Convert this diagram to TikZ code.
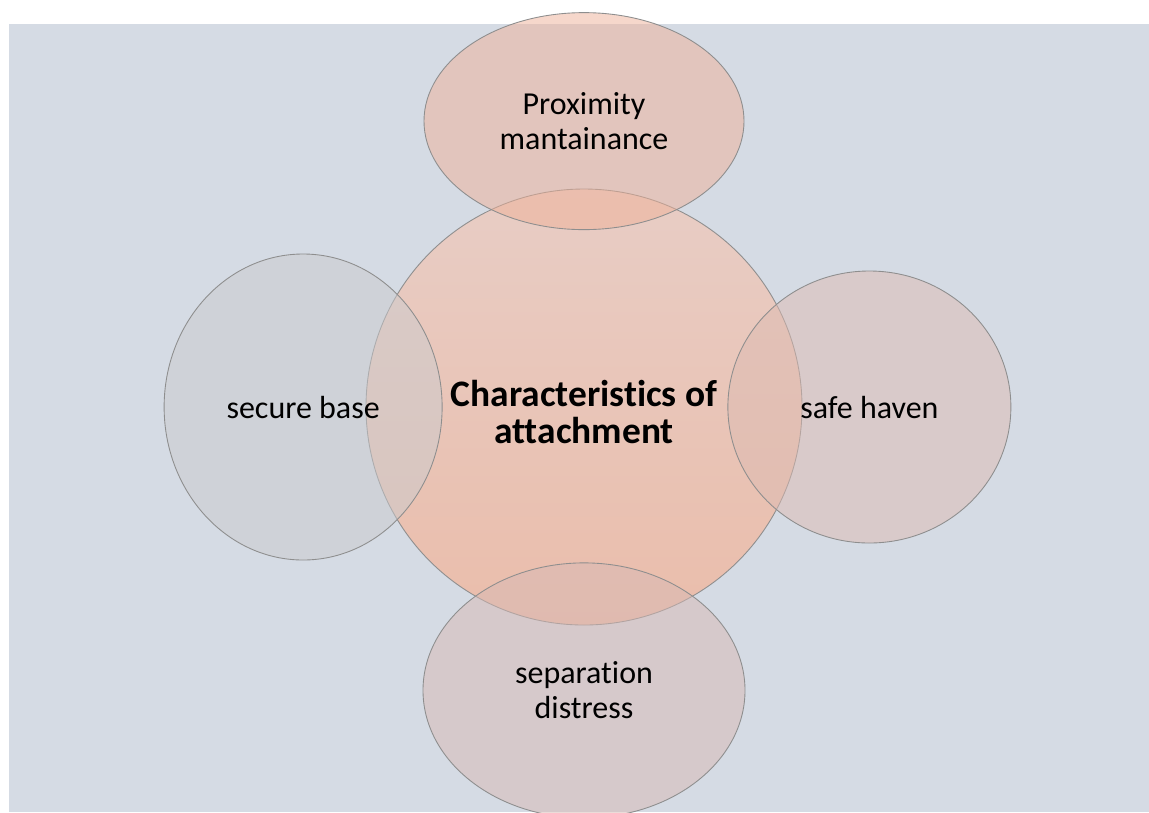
\documentclass[tikz,border=0pt]{standalone}
\usepackage{fontspec}
\setmainfont{Carlito}[Ligatures=NoCommon]
\usetikzlibrary{shapes.geometric,positioning}

\definecolor{slate}{HTML}{D5DBE4}
\definecolor{rim}{HTML}{8E8E8E}
\definecolor{coretop}{HTML}{E8CDC5}
\definecolor{corebot}{HTML}{EABDAB}
\definecolor{proxfill}{HTML}{EFB198}
\definecolor{basefill}{HTML}{CBCBCE}
\definecolor{havenfill}{HTML}{DDBBB2}
\definecolor{distfill}{HTML}{D7B9B4}

\begin{document}
\begin{tikzpicture}[
  core/.style={circle, draw=rim, line width=0.5pt, minimum size=87.2mm, inner sep=0pt,
    top color=coretop, bottom color=corebot},
  petal/.style={ellipse, draw=rim, line width=0.5pt, inner sep=0pt, align=center,
    fill opacity=0.5, text opacity=1, font=\fontsize{18.2}{20}\selectfont},
]
  \useasboundingbox (0,0) rectangle (22.98,-16.24);
  \fill[white] (0,0) rectangle (22.98,-16.24);
  \fill[slate] (0.18,-0.48) rectangle (22.98,-16.24);

  % centre circle and the four overlapping ellipses
  \node[core] (core) at (11.68,-8.14) {};
  \node[petal, fill=proxfill, minimum width=64mm, minimum height=43.4mm, above=-8.3mm of core]
       (prox) {Proximity\\mantainance};
  \node[petal, fill=distfill, minimum width=64.4mm, minimum height=51mm, below=-12.6mm of core]
       (dist) {separation\\distress};
  \node[petal, fill=basefill, minimum width=55.6mm, minimum height=61.2mm, left=-15.4mm of core]
       (base) {secure base};
  \node[petal, fill=havenfill, minimum width=56.6mm, minimum height=54.4mm, right=-15mm of core]
       (haven) {safe haven};

  % title on top of the overlaps
  \node[align=center, font=\fontsize{21.3}{21.6}\selectfont\bfseries, yshift=-1mm] (title) at (core.center)
       {Characteristics of\\attachment};
\end{tikzpicture}
\end{document}
